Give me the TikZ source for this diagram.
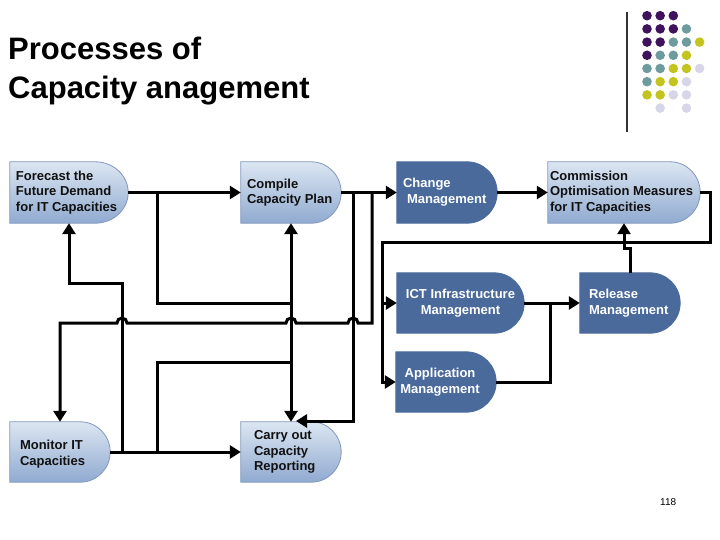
\documentclass[tikz,border=0pt]{standalone}
\usepackage{fontspec}
\setmainfont{Liberation Sans}
\usetikzlibrary{arrows.meta,backgrounds,calc}

\definecolor{darkbox}{HTML}{4A6A9C}
\definecolor{lighttop}{HTML}{DCE6F2}
\definecolor{lightbot}{HTML}{90AAD0}
\definecolor{lightedge}{HTML}{7F97BB}
\definecolor{dotP}{HTML}{40125E}
\definecolor{dotT}{HTML}{6E9B9D}
\definecolor{dotY}{HTML}{C4C41E}
\definecolor{dotL}{HTML}{D6D6E8}
\definecolor{txt}{HTML}{111111}

% #1 node name, #2 style, #3 x radius of the rounded end
\newcommand{\delayshape}[3]{%
  \path[#2] let \p1=(#1.north east), \p2=(#1.south west), \n1={(\y1-\y2)/2} in
    (\x2,\y2) -- (\x2,\y1) -- (\x1-#3pt,\y1)
    arc[start angle=90,end angle=-90,x radius=#3pt,y radius=\n1] -- cycle;
}

\tikzset{
  box/.style={rectangle, inner sep=0pt, minimum height=61pt},
  lightfill/.style={top color=lighttop, bottom color=lightbot, draw=lightedge, line width=0.8pt},
  darkfill/.style={fill=darkbox, draw=darkbox, line width=0.8pt},
  ltext/.style={font=\fontsize{13}{15.7}\selectfont\bfseries, text=txt, align=left, inner sep=0pt},
  dtext/.style={ltext, text=white},
  conn/.style={line width=3pt, line join=miter},
  arr/.style={conn, -{Triangle[length=11pt,width=13pt]}},
}

\begin{document}
\begin{tikzpicture}[x=1pt,y=-1pt]
\useasboundingbox (0,0) rectangle (720,540);

% title
\node[anchor=base west, font=\fontsize{31}{31}\selectfont\bfseries, inner sep=0pt] (title1) at (8,60) {Processes of};
\node[anchor=base west, font=\fontsize{31}{31}\selectfont\bfseries, inner sep=0pt] (title2) at (8,99) {Capacity anagement};

% decoration: line and dots
\draw[line width=1.1pt, color=black!80] (627,12) -- (627,132);
\foreach \row [count=\i] in {{P,P,P,N,N},{P,P,P,T,N},{P,P,T,T,Y},{P,T,T,Y,N},{T,T,Y,Y,L},{T,Y,Y,L,N},{Y,Y,L,L,N},{N,L,N,L,N}} {
  \foreach \c [count=\j] in \row {
    \if\c N\else
      \fill[dot\c] ({647+13.15*(\j-1)},{15.7+13.2*(\i-1)}) circle[radius=4.8pt];
    \fi
  }
}

% shape nodes
\node[box, minimum width=118pt] (forecast)    at (69,192.5)  {};
\node[box, minimum width=100pt] (compile)     at (291,192.5) {};
\node[box, minimum width=100pt] (change)      at (447,192.5) {};
\node[box, minimum width=152pt] (commission)  at (624,192.5) {};
\node[box, minimum width=127pt, minimum height=60pt] (ict)         at (460.5,303) {};
\node[box, minimum width=100pt, minimum height=60pt] (release)     at (630,303)   {};
\node[box, minimum width=100pt, minimum height=60pt] (application) at (446,382)   {};
\node[box, minimum width=100pt, minimum height=60pt] (monitor)     at (60,452)    {};
\node[box, minimum width=100pt, minimum height=60pt] (carry)       at (291,452)   {};

\begin{scope}[on background layer]
  \delayshape{forecast}{lightfill}{33}
  \delayshape{compile}{lightfill}{30}
  \delayshape{change}{darkfill}{30}
  \delayshape{commission}{lightfill}{30}
  \delayshape{ict}{darkfill}{30}
  \delayshape{release}{darkfill}{30}
  \delayshape{application}{darkfill}{30}
  \delayshape{monitor}{lightfill}{30}
  \delayshape{carry}{lightfill}{30}
\end{scope}

% texts
\node[ltext, anchor=west] (forecastT) at ([xshift=6pt]forecast.west) {Forecast the\\Future Demand\\for IT Capacities};
\node[ltext, anchor=west] (compileT) at ([xshift=6pt]compile.west) {Compile\\Capacity Plan};
\node[dtext, anchor=west] (changeT) at ([xshift=6pt]change.west) {Change\\\hspace*{4pt}Management};
\node[ltext, anchor=west] (commissionT) at ([xshift=2pt]commission.west) {Commission\\Optimisation Measures\\for IT Capacities};
\node[dtext, align=center] (ictT) at (ict.center) {ICT Infrastructure\\Management};
\node[dtext, anchor=west] (releaseT) at ([xshift=9pt]release.west) {Release\\Management};
\node[dtext, align=center] (applicationT) at ([xshift=-6pt]application.center) {Application\\Management};
\node[ltext, anchor=west] (monitorT) at ([xshift=10pt,yshift=-2pt]monitor.west) {Monitor IT\\Capacities};
\node[ltext, anchor=west] (carryT) at ([xshift=13pt]carry.west) {Carry out\\Capacity\\Reporting};

% junction points
\coordinate (j1) at (157,192.5);
\coordinate (j2) at (157,452);
\coordinate (j3) at (122,452);
\coordinate (j4) at (353,192.5);
\coordinate (j5) at (372,192.5);

% connectors
\draw[arr] (forecast.east) -- (compile.west);
\draw[arr] (j1) |- (291,303) -- (compile.south);
\draw[conn] (291,303) -- (291,362);
\draw[arr] (monitor.east) -- (carry.west);
\draw[arr] (j2) |- (291,362) -- (carry.north);
\draw[arr] (j3) -- (122,283) -| (forecast.south);
\draw[arr] (compile.east) -- (change.west);
\draw[arr] (j4) -- (353,421) -- (296,421);
\draw[arr] (j5) -- (372,323) -- (358,323)
  arc[start angle=0,end angle=180,radius=5pt] -- (296,323)
  arc[start angle=0,end angle=180,radius=5pt] -- (127,323)
  arc[start angle=0,end angle=180,radius=5pt] -- (60,323) -- (monitor.north);
\draw[arr] (change.east) -- (commission.west);
\draw[arr] (commission.east) -- (710,192.5) |- (382,242) -- (382,382) -- (application.west);
\draw[arr] (382,303) -- (ict.west);
\draw[arr] (ict.east) -- (release.west);
\draw[conn] (application.east) -| (550,303);
\draw[arr] (release.north) -- (630,248) -| (commission.south);

% page number
\node[anchor=base west, font=\fontsize{10}{12}\selectfont, inner sep=0pt] (pagenum) at (660,505) {118};
\end{tikzpicture}
\end{document}
